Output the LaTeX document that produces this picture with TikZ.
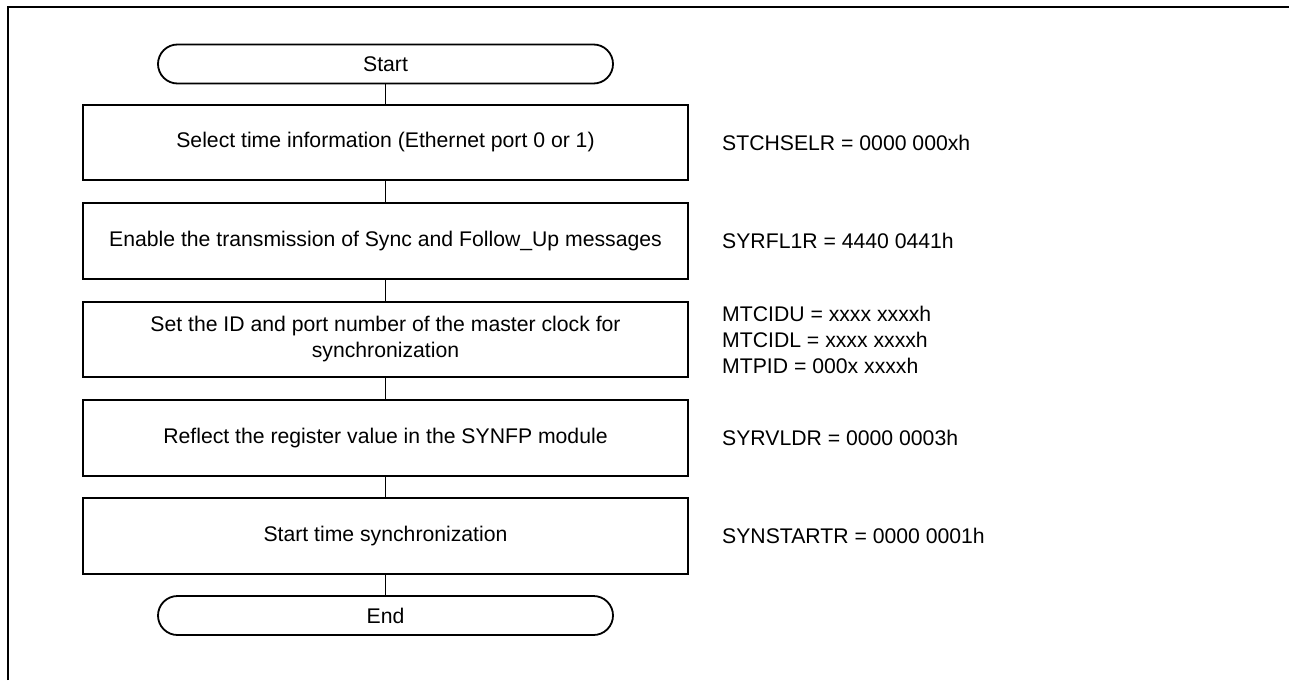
\documentclass[tikz,border=0pt]{standalone}
\usepackage{fontspec}
\setmainfont{Liberation Sans}
\begin{document}
\begin{tikzpicture}[x=1pt,y=-1pt,
  txt/.style={font=\fontsize{21.2}{26}\selectfont},
  box/.style={txt, draw, line width=1.8pt, minimum width=605pt, minimum height=75.5pt, inner sep=0pt, align=center},
  term/.style={txt, draw, line width=1.8pt, rounded corners=19.5pt, minimum width=455pt, minimum height=39pt, inner sep=0pt},
  note/.style={txt, anchor=west, align=left, inner sep=0pt},
  link/.style={line width=1.5pt},
  frame/.style={line width=2.4pt}]
\useasboundingbox (0,0) rectangle (1289,680);
% outer frame (cut at right and bottom)
\coordinate (fbl) at (8,680);
\coordinate (ftl) at (8,7);
\coordinate (ftr) at (1289,7);
\draw[frame] (fbl) -- (ftl) -- (ftr);

\node[term] (start) at (385.5,64) {Start};
\node[box] (b1) at (385.5,142.5) {Select time information (Ethernet port 0 or 1)};
\node[box] (b2) at (385.5,241) {Enable the transmission of Sync and Follow\_Up messages};
\node[box] (b3) at (385.5,339.5) {Set the ID and port number of the master clock for\\synchronization};
\node[box] (b4) at (385.5,438) {Reflect the register value in the SYNFP module};
\node[box] (b5) at (385.5,536) {Start time synchronization};
\node[term] (end) at (385.5,615.5) {End};

\draw[link] (start) -- (b1);
\draw[link] (b1) -- (b2);
\draw[link] (b2) -- (b3);
\draw[link] (b3) -- (b4);
\draw[link] (b4) -- (b5);
\draw[link] (b5) -- (end);

\node[note] (n1) at (722,142.5) {STCHSELR = 0000 000xh};
\node[note] (n2) at (722,241) {SYRFL1R = 4440 0441h};
\node[note] (n3) at (722,339.5) {MTCIDU = xxxx xxxxh\\MTCIDL = xxxx xxxxh\\MTPID = 000x xxxxh};
\node[note] (n4) at (722,438) {SYRVLDR = 0000 0003h};
\node[note] (n5) at (722,536) {SYNSTARTR = 0000 0001h};
\end{tikzpicture}
\end{document}
